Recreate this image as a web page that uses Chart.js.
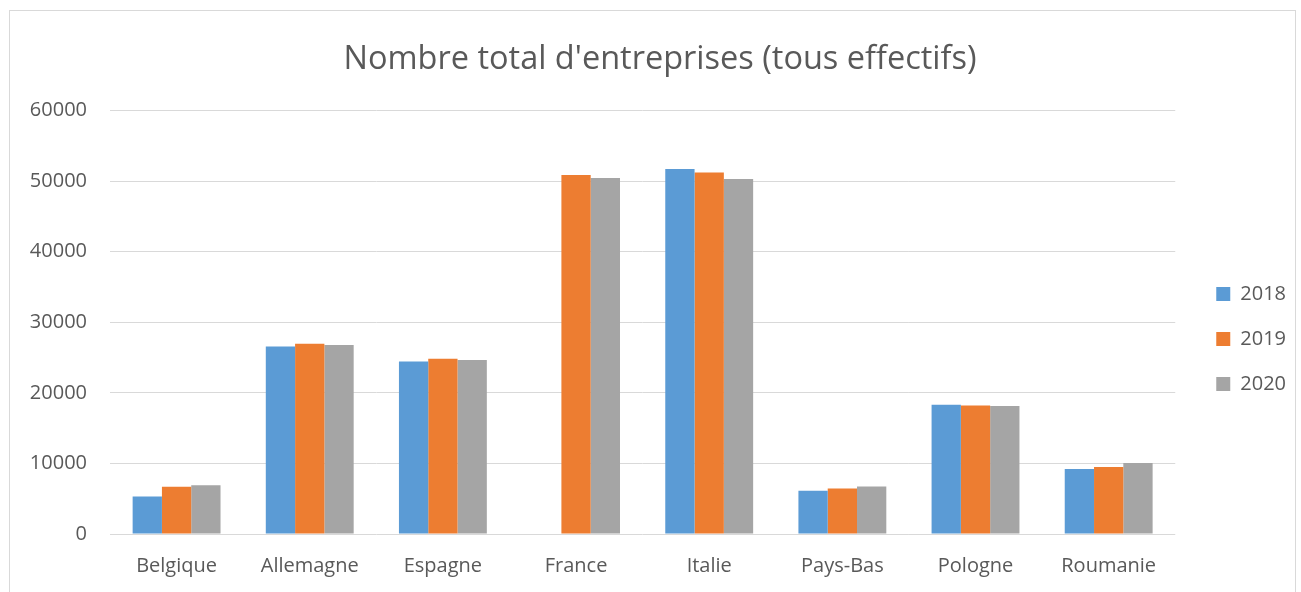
<!DOCTYPE html>
<html>
<head>
<meta charset="utf-8">
<script src="https://cdn.jsdelivr.net/npm/chart.js@4.4.1/dist/chart.umd.min.js"></script>
<style>
  html, body { margin: 0; padding: 0; background: #ffffff; overflow: hidden; }
  #frame { position: absolute; left: 9px; top: 10px; width: 1287px; height: 600px; border: 1px solid #d9d9d9; box-sizing: border-box; }
  #wrap { position: absolute; left: 0; top: 0; width: 1301px; height: 592px; }
</style>
</head>
<body>
<div id="frame"></div>
<div id="wrap"><canvas id="c"></canvas></div>
<script>
const categories = ["Belgique", "Allemagne", "Espagne", "France", "Italie", "Pays-Bas", "Pologne", "Roumanie"];
const seriesNames = ["2018", "2019", "2020"];
const values2018 = [5300, 26560, 24440, null, 51700, 6110, 18320, 9220];
const values2019 = [6680, 26940, 24820, 50850, 51230, 6440, 18220, 9500];
const values2020 = [6900, 26760, 24640, 50420, 50280, 6720, 18130, 10070];
const yTicks = [0, 10000, 20000, 30000, 40000, 50000, 60000];
const titleText = "Nombre total d'entreprises (tous effectifs)";

const colors = ["#5B9BD5", "#ED7D31", "#A5A5A5"];
const FONT = "'Open Sans', 'DejaVu Sans', sans-serif";
const TXT = "#595959";

new Chart(document.getElementById('c'), {
  type: 'bar',
  data: {
    labels: categories,
    datasets: [values2018, values2019, values2020].map((v, i) => ({
      label: seriesNames[i],
      data: v,
      backgroundColor: colors[i],
      borderWidth: 0,
      categoryPercentage: 0.66,
      barPercentage: 1.0
    }))
  },
  options: {
    responsive: true,
    maintainAspectRatio: false,
    animation: false,
    layout: { padding: { left: 24, right: 5, top: 40, bottom: -6 } },
    plugins: {
      tooltip: { enabled: false },
      title: {
        display: true,
        text: titleText,
        color: TXT,
        font: { family: FONT, size: 32.5, weight: 'normal' },
        padding: { top: 0, bottom: 31.5 }
      },
      legend: {
        position: 'right',
        title: { display: true, text: '', font: { size: 10 }, padding: { top: 28, bottom: 0 } },
        labels: {
          color: TXT,
          font: { family: FONT, size: 20 },
          boxWidth: 14,
          boxHeight: 14,
          padding: 25
        }
      }
    },
    scales: {
      x: {
        grid: { display: false, drawTicks: false },
        border: { display: false },
        ticks: { color: TXT, font: { family: FONT, size: 20 }, padding: 20 }
      },
      y: {
        min: 0,
        max: 60000,
        afterBuildTicks: (s) => { s.ticks = yTicks.map(v => ({ value: v })); },
        grid: { color: '#d9d9d9', lineWidth: 1, drawTicks: false },
        border: { display: false },
        ticks: { color: TXT, font: { family: FONT, size: 20 }, padding: 23, callback: (v) => String(v) },
        afterFit: (s) => { s.width = 86; }
      },
      y2: {
        position: 'right',
        display: true,
        grid: { display: false },
        border: { display: false },
        ticks: { display: false },
        afterFit: (s) => { s.width = 16; }
      }
    }
  }
});
</script>
</body>
</html>
